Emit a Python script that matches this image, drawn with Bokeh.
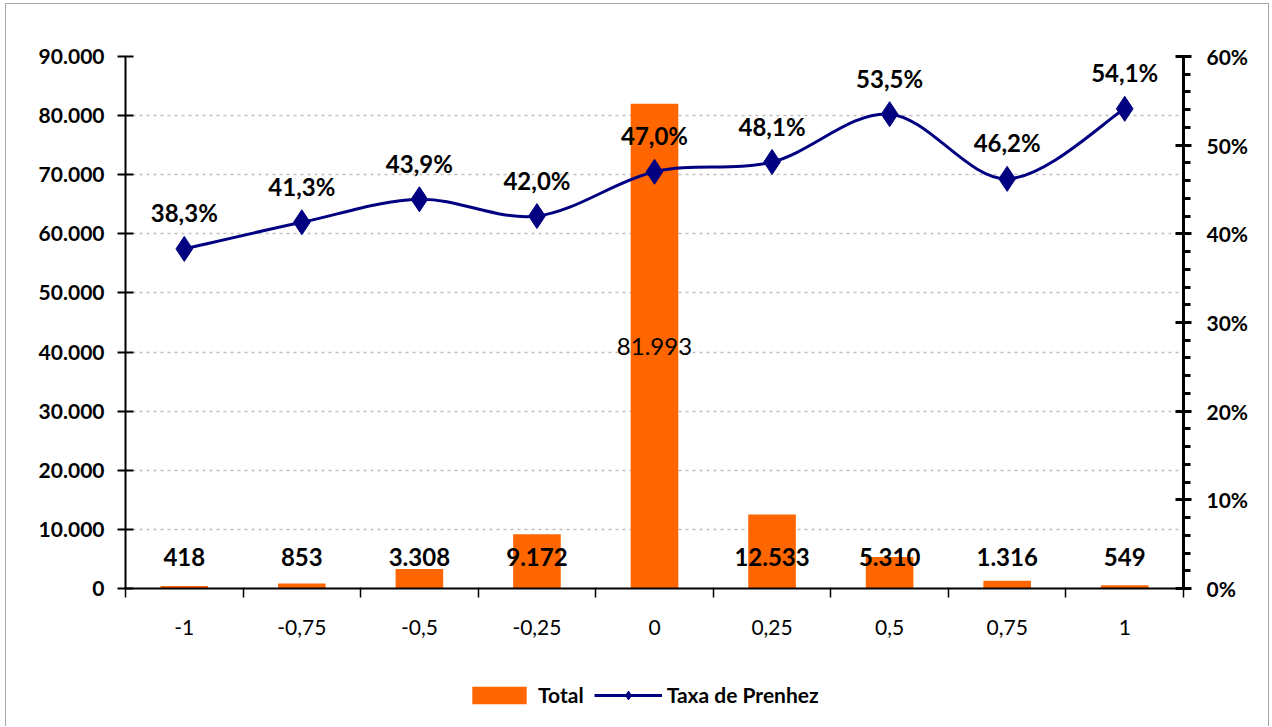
from bokeh.plotting import figure
from bokeh.layouts import column
from bokeh.models import (Range1d, LinearAxis, FixedTicker, ColumnDataSource, Legend,
                          LegendItem, NumeralTickFormatter, Grid)
from bokeh.core.properties import value
from bokeh.embed import file_html
from bokeh.resources import INLINE

# ---------------- data ----------------
categories = ["-1", "-0,75", "-0,5", "-0,25", "0", "0,25", "0,5", "0,75", "1"]
totals = [418, 853, 3308, 9172, 81993, 12533, 5310, 1316, 549]
taxa = [0.383, 0.413, 0.439, 0.420, 0.470, 0.481, 0.535, 0.462, 0.541]
left_ticks = [0, 10000, 20000, 30000, 40000, 50000, 60000, 70000, 80000, 90000]
right_ticks = [0.0, 0.1, 0.2, 0.3, 0.4, 0.5, 0.6]

def fmt_int(v):
    return f"{v:,}".replace(",", ".")

def fmt_pct(v):
    return f"{v*100:.1f}%".replace(".", ",")

xs = list(range(len(categories)))
total_labels = [fmt_int(v) for v in totals]
taxa_labels = [fmt_pct(v) for v in taxa]

ORANGE = "#FF6600"
NAVY = "#000080"
FONT = "Lato"

p = figure(width=1262, height=661, x_range=Range1d(-0.5, len(categories) - 0.5),
           y_range=Range1d(0, 90000), output_backend="svg", toolbar_location=None,
           x_axis_type=None, y_axis_type=None,
           min_border_left=119, min_border_top=52, min_border_right=85, min_border_bottom=77)
p.extra_y_ranges = {"pct": Range1d(0, 0.6)}
p.outline_line_color = None
p.background_fill_color = "white"
p.border_fill_color = "white"

# grid
left_ticker = FixedTicker(ticks=left_ticks)
p.add_layout(Grid(dimension=1, ticker=left_ticker, grid_line_color="#bfbfbf",
                  grid_line_dash="3 4", grid_line_width=1.5))

# bars
src = ColumnDataSource(dict(x=xs, total=totals, lab=total_labels))
bars = p.vbar(x="x", top="total", width=0.405, source=src, fill_color=ORANGE, line_color=None)

# smoothed line (Bezier segments, Catmull-Rom style control points)
n = len(taxa)
def pt(i):
    i = max(0, min(n - 1, i))
    return xs[i], taxa[i]
bz = dict(x0=[], y0=[], x1=[], y1=[], cx0=[], cy0=[], cx1=[], cy1=[])
for i in range(n - 1):
    xa, ya = pt(i); xb, yb = pt(i + 1)
    xp, yp = pt(i - 1); xn, yn = pt(i + 2)
    bz["x0"].append(xa); bz["y0"].append(ya)
    bz["x1"].append(xb); bz["y1"].append(yb)
    bz["cx0"].append(xa + (xb - xp) / 6); bz["cy0"].append(ya + (yb - yp) / 6)
    bz["cx1"].append(xb - (xn - xa) / 6); bz["cy1"].append(yb - (yn - ya) / 6)
p.bezier(x0="x0", y0="y0", x1="x1", y1="y1", cx0="cx0", cy0="cy0", cx1="cx1", cy1="cy1",
         source=ColumnDataSource(bz), y_range_name="pct", line_color=NAVY, line_width=3)
lsrc = ColumnDataSource(dict(x=xs, y=taxa, lab=taxa_labels))
p.scatter(x="x", y="y", source=lsrc, marker="diamond", size=25, fill_color=NAVY,
          line_color=NAVY, y_range_name="pct")

# labels for the line
p.text(x="x", y="y", text="lab", source=lsrc, y_range_name="pct", text_align="center",
       text_baseline="alphabetic", y_offset=-36, text_font=value(FONT),
       text_font_style="bold", text_font_size="24px", text_color="black")

# labels for bars
imax = totals.index(max(totals))
small = dict(x=[xs[i] for i in xs if i != imax], y=[0 for i in xs if i != imax],
             lab=[total_labels[i] for i in xs if i != imax])
p.text(x="x", y="y", text="lab", source=ColumnDataSource(small), text_align="center",
       text_baseline="alphabetic", y_offset=-32, text_font=value(FONT),
       text_font_style="bold", text_font_size="24px", text_color="black")
p.text(x=[xs[imax]], y=[totals[imax] / 2], text=[total_labels[imax]], text_align="center",
       text_baseline="middle", text_font=value(FONT), text_font_size="24px", text_color="black")

# axes
xaxis = LinearAxis(ticker=FixedTicker(ticks=xs, minor_ticks=[x - 0.5 for x in xs] + [xs[-1] + 0.5]),
                   major_label_overrides={x: c for x, c in zip(xs, categories)})
xaxis.major_tick_line_color = None
xaxis.major_tick_out = 9
xaxis.major_tick_in = 0
xaxis.minor_tick_out = 9
xaxis.minor_tick_in = 1
xaxis.minor_tick_line_color = "black"
xaxis.minor_tick_line_width = 1.5
xaxis.axis_line_width = 2
xaxis.axis_line_color = "black"
xaxis.major_label_standoff = 22
xaxis.major_label_text_font = FONT
xaxis.major_label_text_font_size = "21px"
xaxis.major_label_text_color = "black"
p.add_layout(xaxis, "below")

yaxis = LinearAxis(ticker=left_ticker,
                   major_label_overrides={t: fmt_int(t) for t in left_ticks})
yaxis.major_tick_in = 8
yaxis.major_tick_out = 8
yaxis.minor_tick_line_color = None
yaxis.major_tick_line_width = 2
yaxis.axis_line_width = 2
yaxis.major_label_standoff = 13
yaxis.major_label_text_font = FONT
yaxis.major_label_text_font_style = "bold"
yaxis.major_label_text_font_size = "21px"
yaxis.major_label_text_color = "black"
p.add_layout(yaxis, "left")

raxis = LinearAxis(y_range_name="pct",
                   ticker=FixedTicker(ticks=right_ticks, minor_ticks=[i * 0.02 for i in range(31)]),
                   formatter=NumeralTickFormatter(format="0%"))
raxis.major_tick_in = 8
raxis.major_tick_out = 8
raxis.minor_tick_in = 0
raxis.minor_tick_out = 7
raxis.major_tick_line_width = 3
raxis.minor_tick_line_width = 3
raxis.axis_line_width = 3
raxis.major_label_standoff = 15
raxis.major_label_text_font = FONT
raxis.major_label_text_font_style = "bold"
raxis.major_label_text_font_size = "21px"
raxis.major_label_text_color = "black"
p.add_layout(raxis, "right")

# ---------------- legend strip (same series, ranges chosen so marks stay out of view) ----------------
q = figure(width=1262, height=61, x_range=Range1d(-0.5, len(categories) - 0.5),
           y_range=Range1d(200000, 300000), output_backend="svg", toolbar_location=None,
           x_axis_type=None, y_axis_type=None, min_border=0)
q.extra_y_ranges = {"pct": Range1d(2, 3)}
q.outline_line_color = None
q.background_fill_color = "white"
q.border_fill_color = "white"
lg_bar = q.vbar(x="x", top="total", width=0.405, source=src, fill_color=ORANGE, line_color=None)
lg_line = q.line(x="x", y="y", source=lsrc, line_color=NAVY, line_width=3, y_range_name="pct")
lg_mark = q.scatter(x="x", y="y", source=lsrc, marker="diamond", size=22, fill_color=NAVY,
                    line_color=NAVY, y_range_name="pct")
legend = Legend(items=[LegendItem(label="Total", renderers=[lg_bar]),
                       LegendItem(label="Taxa de Prenhez", renderers=[lg_line, lg_mark])],
                orientation="horizontal", location=(340, 19),
                border_line_color=None, background_fill_alpha=0,
                label_text_font=FONT, label_text_font_style="bold", label_text_font_size="21px",
                label_text_color="black",
                glyph_width=68, glyph_height=22, spacing=10, label_standoff=5,
                padding=0, margin=0)
q.add_layout(legend)

layout = column(p, q, spacing=0)
layout.styles = {"margin-left": "5px", "margin-top": "3px",
                 "border-top": "1px solid #a6a6a6", "border-left": "1px solid #a6a6a6",
                 "border-right": "1px solid #a6a6a6"}

open("out.html", "w").write(file_html(layout, INLINE))
